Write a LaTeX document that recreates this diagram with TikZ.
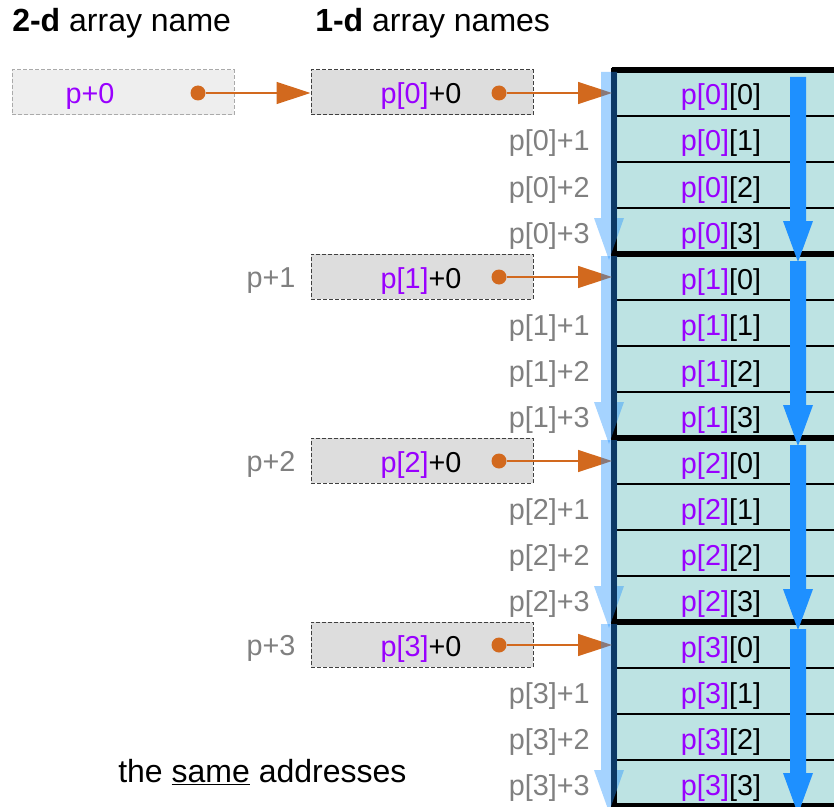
\documentclass[tikz,border=0pt]{standalone}
\usepackage{fontspec}
\setmainfont{Liberation Sans}
\usetikzlibrary{arrows.meta}

\definecolor{viola}{RGB}{153,0,255}
\definecolor{grigio}{RGB}{128,128,128}
\definecolor{arancio}{RGB}{210,105,30}
\definecolor{acqua}{RGB}{189,227,227}
\definecolor{blu}{RGB}{30,144,255}
\definecolor{grigioA}{RGB}{238,238,238}
\definecolor{bordoA}{RGB}{170,170,170}
\definecolor{grigioB}{RGB}{221,221,221}
\definecolor{bordoB}{RGB}{64,64,64}

\begin{document}
\begin{tikzpicture}[
	x=0.75pt, y=-0.75pt,
	testo/.style={font=\fontsize{21.6}{26}\selectfont, inner sep=0pt, anchor=base},
	lato/.style={testo, text=grigio},
	titolo/.style={font=\fontsize{24}{29}\selectfont, inner sep=0pt, anchor=base west},
	riga/.style={line width=0.8pt, black},
	bordo/.style={line width=4.2pt, black},
	scatolaA/.style={draw=bordoA, fill=grigioA, dash pattern=on 3pt off 1.5pt,
		line width=0.75pt, minimum width=166.5pt, minimum height=33.75pt, inner sep=0pt},
	scatolaB/.style={scatolaA, draw=bordoB, fill=grigioB},
	punto/.style={circle, fill=arancio, inner sep=0pt, minimum size=11.25pt},
	ptr/.style={-{Triangle[length=25.5pt, width=16.5pt]}, arancio, line width=1.1pt},
	scorri/.style={fill=blu},
	scorriC/.style={fill=blu, fill opacity=0.4}]
	
	\useasboundingbox (0,0) rectangle (834,806);
	\clip (0,0) rectangle (834,806);
	
	%% --- titoli ---
	\node[titolo] (t2d) at (12,32) {\textbf{2-d} array name};
	\node[titolo] (t1d) at (315,32) {\textbf{1-d} array names};
	\node[titolo] (same) at (118,782) {the \underline{same} addresses};
	
	%% --- memoria: celle, righe sottili, bordi spessi ---
	\fill[acqua] (614,70) rectangle (850,806);
	\foreach \r in {1,...,15}
		\draw[riga] (614,70+46*\r) -- (850,70+46*\r);
	\foreach \y in {70,254,438,622,806}
		\draw[bordo] (611.6,\y) -- (850,\y);
	\draw[bordo] (613.7,68) -- (613.7,810);
	
	%% --- contenuto celle ed etichette p[k]+j ---
	\foreach \k in {0,...,3} {
		\foreach \j in {0,...,3} {
			\pgfmathtruncatemacro{\r}{4*\k+\j}
			\node[testo] (c-\k-\j) at (721,105+46*\r) {\textcolor{viola}{p[\k]}[\j]};
		}
		\foreach \j in {1,2,3} {
			\pgfmathtruncatemacro{\r}{4*\k+\j}
			\node[lato, anchor=base east] (l-\k-\j) at (590,105+46*\r) {p[\k]+\j};
		}
	}
	
	%% --- frecce blu (righe della matrice) ---
	\foreach \k in {0,...,3} {
		\pgfmathsetmacro{\ya}{77+184*\k}
		\pgfmathsetmacro{\yb}{262+184*\k}
		\fill[scorri] (790,\ya) -- (806,\ya) -- (806,\yb-41) -- (813,\yb-41)
			-- (798,\yb) -- (783,\yb-41) -- (790,\yb-41) -- cycle;
	}
	
	%% --- nome 2-d ---
	\node[scatolaA] (a0) at (123,92.5) {};
	\node[testo, text=viola] (a0t) at (90,104) {p+0};
	\node[punto] (pA) at (198,93) {};
	
	%% --- nomi 1-d ---
	\foreach \k in {0,...,3} {
		\node[scatolaB] (b\k) at (422,92.5+184*\k) {};
		\node[testo] (b\k t) at (421,104+184*\k) {\textcolor{viola}{p[\k]}+0};
		\node[punto] (pb\k) at (499,93+184*\k) {};
		\coordinate (in\k) at (612,93+184*\k);
		\draw[ptr] (pb\k) -- (in\k);
	}
	\foreach \k in {1,2,3}
		\node[lato] (p\k) at (271,103+184*\k) {p+\k};
	
	\draw[ptr] (pA) -- (pA -| b0.west);
	
	%% --- frecce chiare (indirizzi di riga) ---
	\foreach \k in {0,...,3} {
		\pgfmathsetmacro{\ya}{72+184*\k}
		\pgfmathsetmacro{\yb}{260+184*\k}
		\fill[scorriC] (601,\ya) -- (617,\ya) -- (617,\yb-42) -- (624,\yb-42)
			-- (609,\yb) -- (594,\yb-42) -- (601,\yb-42) -- cycle;
	}
	
\end{tikzpicture}
\end{document}
